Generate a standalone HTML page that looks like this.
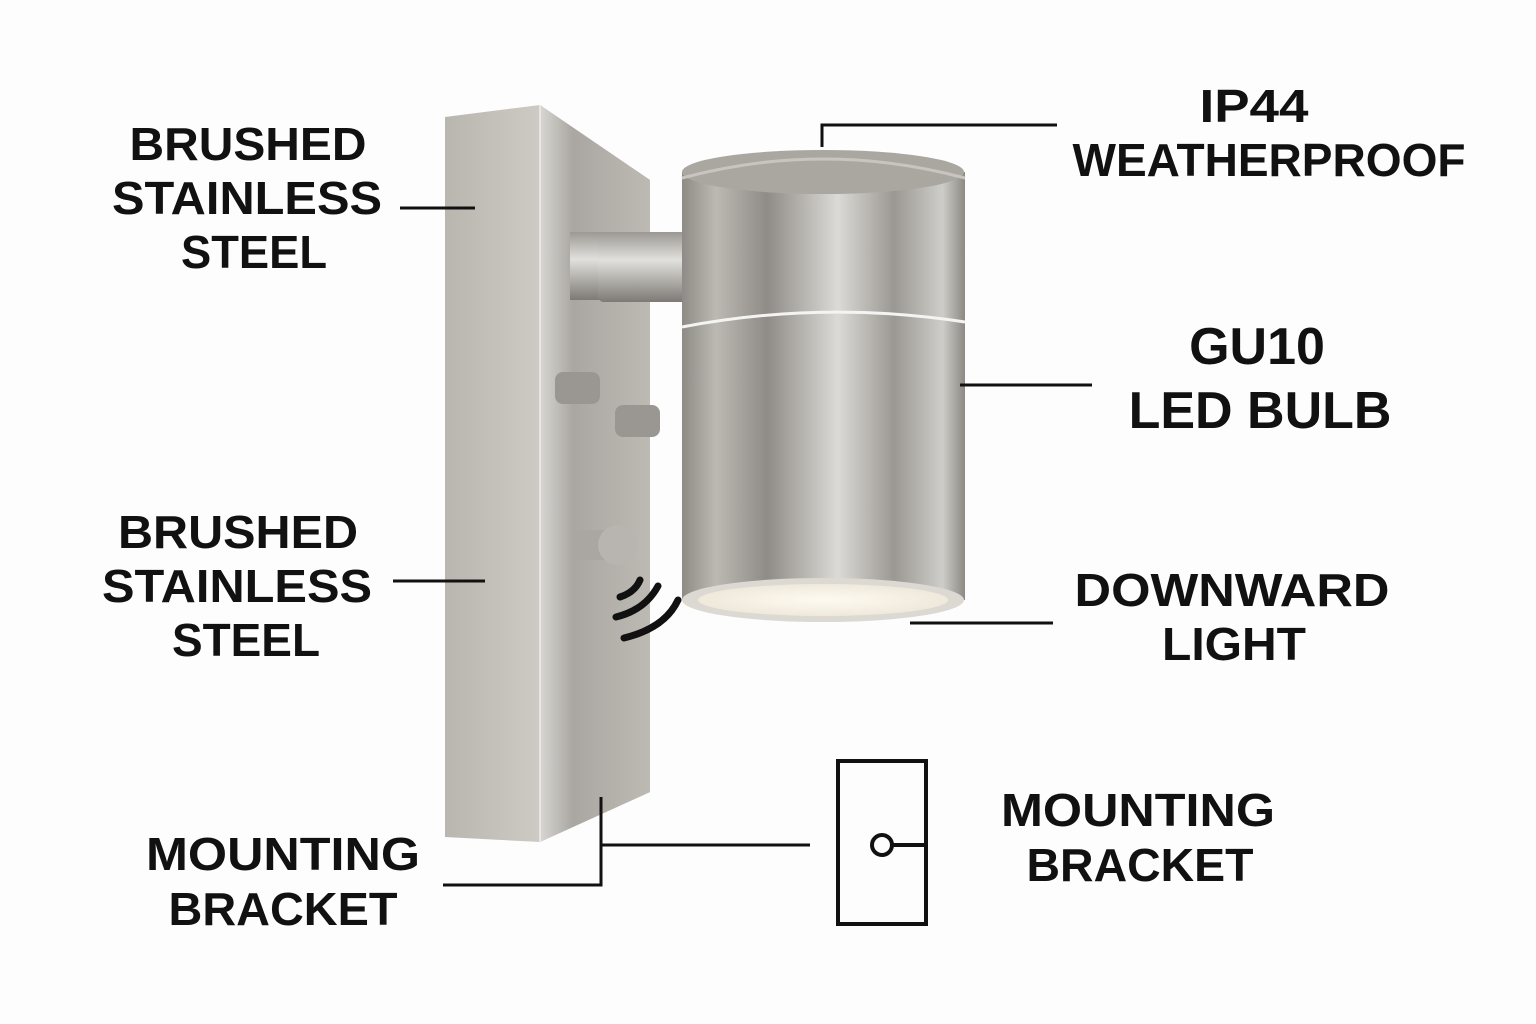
<!DOCTYPE html>
<html><head><style>
body{margin:0;background:#fdfdfd;}
svg{display:block}
text{font-family:"Liberation Sans",sans-serif;font-weight:bold;fill:#111;text-anchor:middle}
</style></head><body>
<svg width="1536" height="1024" viewBox="0 0 1536 1024">
<defs>
<linearGradient id="front" x1="0" x2="1"><stop offset="0" stop-color="#b9b6b0"/><stop offset=".5" stop-color="#cfccc6"/><stop offset="1" stop-color="#bab7b1"/></linearGradient>
<linearGradient id="side" x1="0" x2="1"><stop offset="0" stop-color="#d8d6d2"/><stop offset=".3" stop-color="#aaa7a2"/><stop offset="1" stop-color="#bdbab4"/></linearGradient>
<linearGradient id="cyl" x1="0" x2="1"><stop offset="0" stop-color="#8e8b86"/><stop offset=".12" stop-color="#bcb9b3"/><stop offset=".3" stop-color="#8f8c87"/><stop offset=".55" stop-color="#dcdad6"/><stop offset=".75" stop-color="#9b9893"/><stop offset=".92" stop-color="#cfcdc9"/><stop offset="1" stop-color="#8c8984"/></linearGradient>
<linearGradient id="arm" x1="0" y1="0" x2="0" y2="1"><stop offset="0" stop-color="#9c9994"/><stop offset=".4" stop-color="#e2e0dc"/><stop offset="1" stop-color="#7d7a75"/></linearGradient>
<radialGradient id="lens"><stop offset="0" stop-color="#fffaf0"/><stop offset="1" stop-color="#efe9dc"/></radialGradient>
</defs>
<polygon points="445,117 540,105 650,180 650,792 540,842 445,837" fill="url(#front)"/>
<polygon points="540,105 650,180 650,792 540,842" fill="url(#side)"/>
<line x1="540" y1="105" x2="540" y2="842" stroke="#e8e6e2" stroke-width="2"/>
<rect x="570" y="232" width="120" height="68" fill="url(#arm)"/>
<rect x="598" y="232" width="92" height="70" rx="6" fill="url(#arm)"/>
<rect x="682" y="172" width="283" height="428" fill="url(#cyl)"/>
<ellipse cx="823" cy="172" rx="141" ry="22" fill="#aaa7a1"/>
<path d="M682,178 Q823,140 965,178" fill="none" stroke="#c8c5bf" stroke-width="3"/>
<path d="M682,327 Q823,300 965,322" fill="none" stroke="#f4f4f2" stroke-width="3"/>
<ellipse cx="823" cy="600" rx="141" ry="22" fill="#dcd9d3"/>
<ellipse cx="823" cy="600" rx="125" ry="16" fill="url(#lens)"/>
<rect x="555" y="372" width="45" height="32" rx="8" fill="#9a9792"/>
<rect x="615" y="405" width="45" height="32" rx="8" fill="#9a9792"/>
<rect x="575" y="530" width="35" height="30" fill="#aaa7a2"/>
<circle cx="618" cy="545" r="20" fill="#b8b5b0"/>
<g fill="none" stroke="#111" stroke-width="7" stroke-linecap="round">
<path d="M620,597 Q635,592 640,580"/>
<path d="M616,617 Q645,610 658,586"/>
<path d="M624,638 Q665,628 678,600"/>
</g>
<g stroke="#111" stroke-width="3" fill="none">
<line x1="400" y1="208" x2="475" y2="208"/>
<line x1="393" y1="581" x2="485" y2="581"/>
<polyline points="822,147 822,125 1057,125"/>
<line x1="960" y1="385" x2="1092" y2="385"/>
<line x1="910" y1="623" x2="1053" y2="623"/>
<polyline points="443,885 601,885 601,797"/>
<line x1="601" y1="845" x2="810" y2="845"/>
</g>
<rect x="838" y="761" width="88" height="163" fill="none" stroke="#111" stroke-width="4"/>
<circle cx="882" cy="845" r="10" fill="none" stroke="#111" stroke-width="4"/>
<line x1="892" y1="845" x2="926" y2="845" stroke="#111" stroke-width="4"/>
<g font-size="46" lengthAdjust="spacingAndGlyphs">
<text x="248" y="160" textLength="237" lengthAdjust="spacingAndGlyphs">BRUSHED</text>
<text x="247" y="214" textLength="270" lengthAdjust="spacingAndGlyphs">STAINLESS</text>
<text x="254" y="268" textLength="146" lengthAdjust="spacingAndGlyphs">STEEL</text>
<text x="238" y="548" textLength="240" lengthAdjust="spacingAndGlyphs">BRUSHED</text>
<text x="237" y="602" textLength="270" lengthAdjust="spacingAndGlyphs">STAINLESS</text>
<text x="246" y="656" textLength="148" lengthAdjust="spacingAndGlyphs">STEEL</text>
<text x="1254" y="122" textLength="109" lengthAdjust="spacingAndGlyphs">IP44</text>
<text x="1269" y="176" textLength="393" lengthAdjust="spacingAndGlyphs">WEATHERPROOF</text>
<text x="1232" y="606" textLength="315" lengthAdjust="spacingAndGlyphs">DOWNWARD</text>
<text x="1234" y="660" textLength="144" lengthAdjust="spacingAndGlyphs">LIGHT</text>
<text x="283" y="870" textLength="274" lengthAdjust="spacingAndGlyphs">MOUNTING</text>
<text x="283" y="925" textLength="229" lengthAdjust="spacingAndGlyphs">BRACKET</text>
<text x="1138" y="826" textLength="274" lengthAdjust="spacingAndGlyphs">MOUNTING</text>
<text x="1140" y="881" textLength="227" lengthAdjust="spacingAndGlyphs">BRACKET</text>
</g>
<g font-size="52">
<text x="1257" y="364">GU10</text>
<text x="1260" y="428">LED BULB</text>
</g>
</svg>
</body></html>
